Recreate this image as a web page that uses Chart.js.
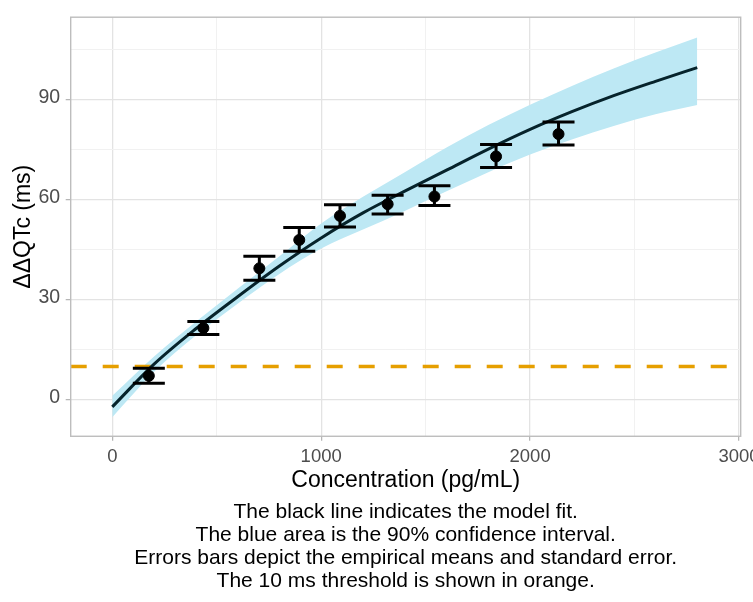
<!DOCTYPE html>
<html lang="en">
<head>
    <meta charset="UTF-8">
    <title>ddQTc vs concentration</title>
    <script src="https://cdn.jsdelivr.net/npm/chart.js"></script>
    <style>
        body { margin: 0; background: #fff; }
        #wrap { width: 753px; height: 602px; }
    </style>
</head>
<body>
    <div id="wrap"><canvas id="qtcChart"></canvas></div>

    <script>
        // axis range (ggplot panel limits) and breaks
        const xRange = [-199, 3008];
        const yRange = [-10.9, 114.6];
        const xBreaks = [0, 500, 1000, 1500, 2000, 2500, 3000];
        const yBreaks = [0, 15, 30, 45, 60, 75, 90, 105];

        // model fit and 90% CI
        const fitConc = [0, 200, 400, 600, 800, 1000, 1200, 1400, 1600, 1800, 2000, 2200, 2400, 2600, 2800];
        const fitQtc  = [-2.1, 10.7, 21.3, 30.9, 40.1, 48.5, 56.0, 62.5, 68.8, 75.1, 81.0, 86.3, 91.1, 95.4, 99.5];
        const ciLower = [-5.2, 8.4, 19.3, 28.8, 37.7, 45.3, 51.0, 56.6, 62.5, 68.2, 73.5, 78.0, 82.0, 85.5, 88.3];
        const ciUpper = [1.2, 13.0, 23.4, 33.3, 43.0, 52.8, 60.8, 68.2, 75.6, 82.3, 88.4, 94.0, 99.2, 104.0, 108.5];

        // empirical bins: mean +/- standard error
        const binConc = [175, 436, 704, 895, 1090, 1318, 1542, 1837, 2136];
        const binMean = [7.2, 21.5, 39.4, 47.9, 55.1, 58.6, 60.9, 72.9, 79.6];
        const binLow  = [5.0, 19.6, 35.8, 44.5, 51.8, 55.7, 58.2, 69.6, 76.3];
        const binHigh = [9.5, 23.5, 43.0, 51.6, 58.4, 61.3, 64.1, 76.5, 83.2];

        const threshold = 10;

        const captionLines = [
            'The black line indicates the model fit.',
            'The blue area is the 90% confidence interval.',
            'Errors bars depict the empirical means and standard error.',
            'The 10 ms threshold is shown in orange.'
        ];

        const FONT = "'Liberation Sans', Arial, sans-serif";
        const toXY = (xs, ys) => xs.map((x, i) => ({ x: x, y: ys[i] }));
        const isMajorX = c => c.tick && c.tick.value % 1000 === 0;
        const isMajorY = c => c.tick && c.tick.value % 30 === 0;

        // error bars + full panel border
        const errorBars = {
            id: 'errorBars',
            afterDatasetsDraw(chart) {
                const ctx = chart.ctx;
                const xs = chart.scales.x, ys = chart.scales.y;
                const a = chart.chartArea;
                ctx.save();
                ctx.strokeStyle = '#000';
                ctx.lineWidth = 3;
                ctx.lineCap = 'butt';
                for (let i = 0; i < binConc.length; i++) {
                    const px = xs.getPixelForValue(binConc[i]);
                    const lo = ys.getPixelForValue(binLow[i]);
                    const hi = ys.getPixelForValue(binHigh[i]);
                    ctx.beginPath();
                    ctx.moveTo(px, lo); ctx.lineTo(px, hi);
                    ctx.moveTo(px - 16, lo); ctx.lineTo(px + 16, lo);
                    ctx.moveTo(px - 16, hi); ctx.lineTo(px + 16, hi);
                    ctx.stroke();
                }
                ctx.strokeStyle = '#BDBDBD';
                ctx.lineWidth = 1.4;
                ctx.strokeRect(a.left, a.top, a.right - a.left, a.bottom - a.top);
                ctx.restore();
            }
        };

        const ctx = document.getElementById('qtcChart').getContext('2d');
        new Chart(ctx, {
            type: 'scatter',
            data: {
                datasets: [
                    {
                        label: 'Observed mean',
                        data: toXY(binConc, binMean),
                        backgroundColor: '#000',
                        borderColor: '#000',
                        pointRadius: 5.5,
                        order: 0
                    },
                    {
                        label: 'Model fit',
                        data: toXY(fitConc, fitQtc),
                        showLine: true,
                        borderColor: '#06232b',
                        borderWidth: 3,
                        pointRadius: 0,
                        cubicInterpolationMode: 'monotone',
                        order: 1
                    },
                    {
                        label: 'Threshold',
                        data: toXY(xRange, [threshold, threshold]),
                        showLine: true,
                        borderColor: '#E69F00',
                        borderWidth: 3.5,
                        borderDash: [16, 16],
                        pointRadius: 0,
                        order: 2
                    },
                    {
                        label: '90% CI upper',
                        data: toXY(fitConc, ciUpper),
                        showLine: true,
                        borderWidth: 0,
                        borderColor: 'rgba(0,0,0,0)',
                        backgroundColor: '#BDE8F4',
                        fill: '+1',
                        pointRadius: 0,
                        cubicInterpolationMode: 'monotone',
                        order: 3
                    },
                    {
                        label: '90% CI lower',
                        data: toXY(fitConc, ciLower),
                        showLine: true,
                        borderWidth: 0,
                        borderColor: 'rgba(0,0,0,0)',
                        pointRadius: 0,
                        cubicInterpolationMode: 'monotone',
                        order: 4
                    }
                ]
            },
            options: {
                responsive: true,
                maintainAspectRatio: false,
                animation: false,
                layout: { padding: { top: 11, right: 12.3, left: 0, bottom: 0 } },
                plugins: {
                    legend: { display: false },
                    tooltip: { enabled: false },
                    title: {
                        display: true,
                        position: 'bottom',
                        fullSize: false,
                        text: captionLines,
                        color: '#000',
                        font: { family: FONT, size: 21, weight: 'normal', lineHeight: 1.086 },
                        padding: { top: 6.5, bottom: 9.5 }
                    }
                },
                scales: {
                    x: {
                        type: 'linear',
                        min: xRange[0],
                        max: xRange[1],
                        afterBuildTicks(scale) {
                            scale.ticks = xBreaks.map(v => ({ value: v }));
                        },
                        afterFit(scale) {
                            scale.height = 58.5;
                            scale.paddingLeft = 0;
                            scale.paddingRight = 0;
                        },
                        border: { display: false },
                        grid: {
                            color: c => isMajorX(c) ? '#E3E3E3' : '#F1F1F1',
                            lineWidth: c => isMajorX(c) ? 1.3 : 1,
                            tickColor: c => isMajorX(c) ? '#B3B3B3' : 'rgba(0,0,0,0)',
                            tickLength: 4.5,
                            tickWidth: 1.2
                        },
                        ticks: {
                            maxRotation: 0,
                            autoSkip: false,
                            padding: 5,
                            color: '#4D4D4D',
                            font: { family: FONT, size: 18.5 },
                            callback: v => (v % 1000 === 0 ? String(v) : '')
                        },
                        title: {
                            display: true,
                            text: 'Concentration (pg/mL)',
                            color: '#000',
                            font: { family: FONT, size: 23 },
                            padding: { top: 0, bottom: 0 }
                        }
                    },
                    y: {
                        type: 'linear',
                        min: yRange[0],
                        max: yRange[1],
                        afterBuildTicks(scale) {
                            scale.ticks = yBreaks.map(v => ({ value: v }));
                        },
                        afterFit(scale) {
                            scale.width = 70.7;
                        },
                        border: { display: false },
                        grid: {
                            color: c => isMajorY(c) ? '#E3E3E3' : '#F1F1F1',
                            lineWidth: c => isMajorY(c) ? 1.3 : 1,
                            tickColor: c => isMajorY(c) ? '#B3B3B3' : 'rgba(0,0,0,0)',
                            tickLength: 5,
                            tickWidth: 1.2
                        },
                        ticks: {
                            autoSkip: false,
                            padding: 5.5,
                            labelOffset: -2,
                            color: '#4D4D4D',
                            font: { family: FONT, size: 19.5 },
                            callback: v => (v % 30 === 0 ? String(v) : '')
                        },
                        title: {
                            display: true,
                            text: 'ΔΔQTc (ms)',
                            color: '#000',
                            font: { family: FONT, size: 23 },
                            padding: { top: 10, bottom: 0 }
                        }
                    }
                }
            },
            plugins: [errorBars]
        });
    </script>
</body>
</html>
